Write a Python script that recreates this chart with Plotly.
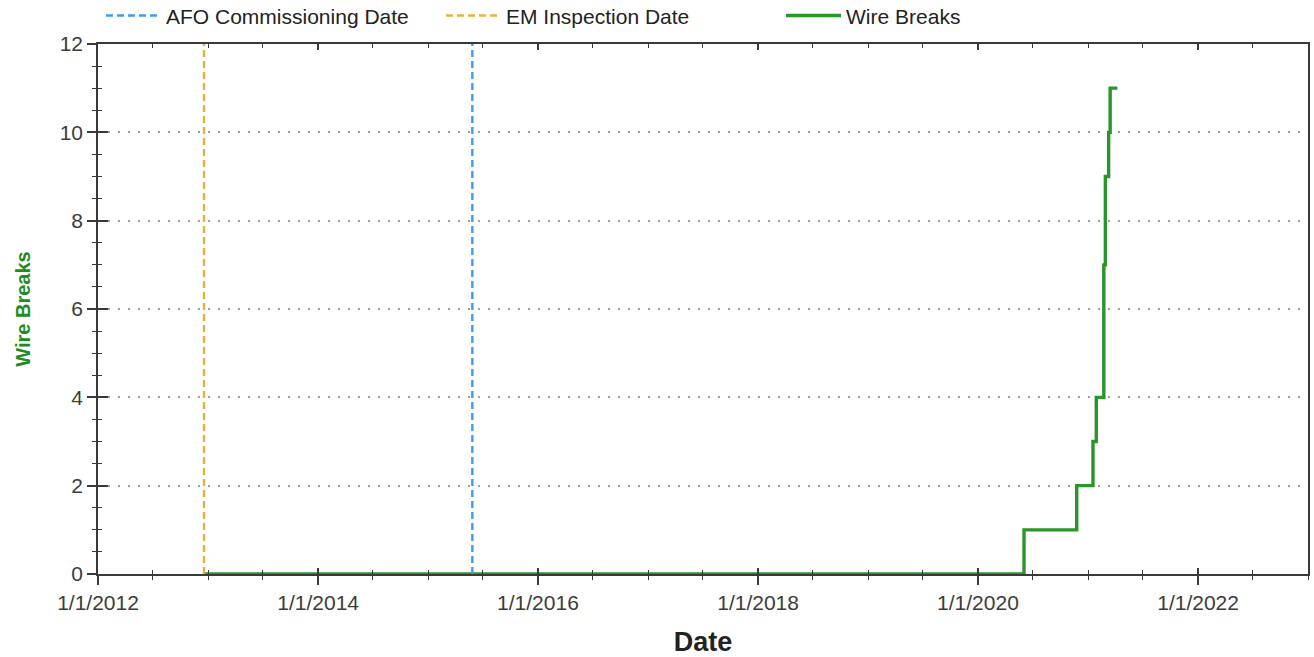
import plotly.graph_objects as go

# ---- data ----
em_inspection_date = "2012-12-18"
afo_commissioning_date = "2015-05-28"

break_dates = ["2012-12-18", "2020-06-02", "2020-11-24", "2021-01-17", "2021-01-28",
               "2021-02-22", "2021-02-22", "2021-02-22", "2021-02-27", "2021-02-27",
               "2021-03-10", "2021-03-15", "2021-04-08"]
break_counts = [0, 1, 2, 3, 4, 5, 6, 7, 8, 9, 10, 11, 11]

x_range = ["2012-01-01", "2023-01-01"]
y_range = [0, 12]
x_tickvals = ["2012-01-01", "2014-01-01", "2016-01-01", "2018-01-01", "2020-01-01", "2022-01-01"]
x_ticktext = ["1/1/2012", "1/1/2014", "1/1/2016", "1/1/2018", "1/1/2020", "1/1/2022"]

FONT = "Liberation Sans, Arial, sans-serif"
AX = "#3a3a3a"

fig = go.Figure()

fig.add_trace(go.Scatter(
    x=break_dates, y=break_counts, mode="lines", line_shape="hv",
    line=dict(color="#2a962a", width=3.4), name="Wire Breaks", legendrank=3,
))
fig.add_trace(go.Scatter(
    x=[afo_commissioning_date, afo_commissioning_date], y=y_range, mode="lines",
    line=dict(color="#3d9cf5", width=2.4, dash="7px,4px"), name="AFO Commissioning Date",
    legendrank=1, xaxis="x2", yaxis="y2",
))
fig.add_trace(go.Scatter(
    x=[em_inspection_date, em_inspection_date], y=y_range, mode="lines",
    line=dict(color="#e6b13c", width=2.4, dash="7px,4px"), name="EM Inspection Date",
    legendrank=2, xaxis="x2", yaxis="y2",
))

common_x = dict(type="date", range=x_range, fixedrange=True, showgrid=False, zeroline=False)
common_y = dict(range=y_range, fixedrange=True, zeroline=False)

fig.update_layout(
    width=1314, height=657,
    margin=dict(l=98, r=6, t=44, b=83, autoexpand=False),
    paper_bgcolor="white", plot_bgcolor="white",
    font=dict(family=FONT, size=21, color="#333333"),
    showlegend=True,
    legend=dict(orientation="h", x=0.0025, xanchor="left", y=1.053, yanchor="middle",
                entrywidth=270, entrywidthmode="pixels", itemwidth=55,
                font=dict(family=FONT, size=21, color="#222222"),
                bgcolor="rgba(0,0,0,0)", traceorder="normal"),
    xaxis=dict(**common_x,
               tickmode="array", tickvals=x_tickvals, ticktext=x_ticktext,
               ticks="outside", ticklen=9, tickwidth=1.6, tickcolor=AX,
               minor=dict(dtick="M6", ticks="outside", ticklen=4, tickwidth=1.4, tickcolor=AX, showgrid=False),
               showline=True, linecolor=AX, linewidth=1.6, mirror=True,
               tickfont=dict(family=FONT, size=21, color="#3c3c3c"),
               title=dict(text="<b>Date</b>", font=dict(family=FONT, size=27, color="#222222"), standoff=20)),
    yaxis=dict(**common_y,
               tickmode="linear", tick0=0, dtick=2,
               ticks="outside", ticklen=9, tickwidth=1.6, tickcolor=AX,
               minor=dict(dtick=0.5, ticks="outside", ticklen=4, tickwidth=1.4, tickcolor=AX, showgrid=False),
               showgrid=True, gridcolor="#a0a0a0", griddash="2px,8px", gridwidth=1.6,
               showline=True, linecolor=AX, linewidth=1.6, mirror=True,
               tickfont=dict(family=FONT, size=21, color="#3c3c3c"),
               title=dict(text="<b>Wire Breaks</b>", font=dict(family=FONT, size=20, color="#1f8c1f"), standoff=24)),
    xaxis2=dict(**common_x, overlaying="x", side="bottom",
                tickmode="array", tickvals=x_tickvals, showticklabels=False,
                ticks="inside", ticklen=6, tickwidth=1.6, tickcolor=AX, mirror="ticks",
                minor=dict(dtick="M6", ticks="inside", ticklen=4, tickwidth=1.4, tickcolor=AX, showgrid=False),
                showline=False),
    yaxis2=dict(**common_y, overlaying="y", side="left",
                tickmode="linear", tick0=0, dtick=2, showticklabels=False,
                ticks="inside", ticklen=10, tickwidth=1.6, tickcolor=AX,
                minor=dict(dtick=0.5, ticks="inside", ticklen=4, tickwidth=1.4, tickcolor=AX, showgrid=False),
                showgrid=False, showline=False),
)

fig.write_html("out.html", config={"displayModeBar": False},
               post_script="document.body.style.margin='0';")
